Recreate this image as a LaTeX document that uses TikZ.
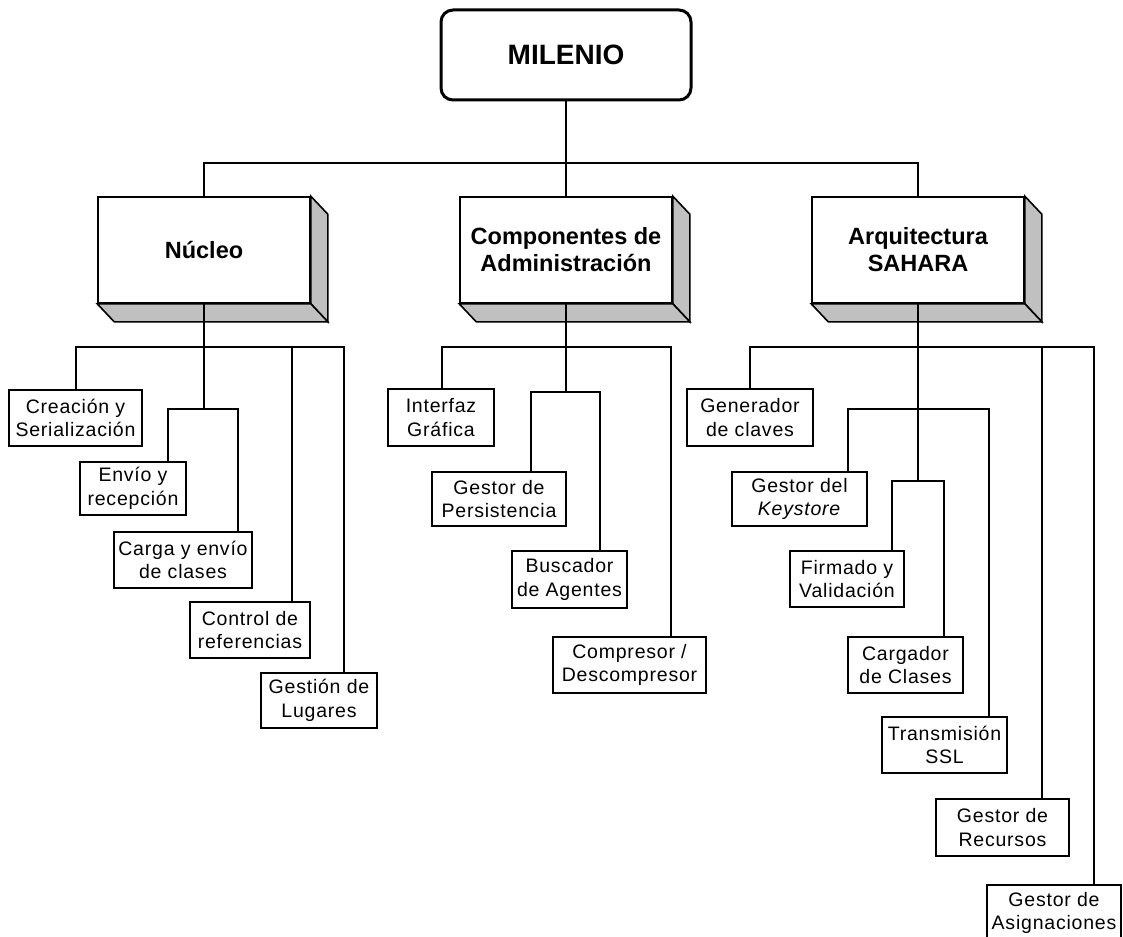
\documentclass[tikz,border=0pt]{standalone}
\usepackage{fontspec}
\setmainfont{Liberation Sans}
\newfontfamily\leaffont[LetterSpace=4]{Liberation Sans}
\definecolor{sidegray}{HTML}{C0C0C0}
\begin{document}
\begin{tikzpicture}[x=1pt,y=-1pt,
  leaf/.style={draw, line width=1.6pt, fill=white, align=center, inner sep=0pt,
    font=\leaffont\fontsize{19.5}{23.5}\selectfont},
  head/.style={draw, line width=1.6pt, fill=white, align=center, inner sep=0pt,
    minimum width=212pt, minimum height=106pt,
    font=\bfseries\fontsize{23.5}{27}\selectfont},
  link/.style={line width=1.6pt},
  depth/.style={fill=sidegray, draw, line width=1.6pt, line join=miter}
]
\useasboundingbox (0,0) rectangle (1123,936);
\clip (0,0) rectangle (1123,936);

% root
\node[draw, line width=3pt, rounded corners=12pt, minimum width=250pt, minimum height=90pt,
  font=\bfseries\fontsize{28}{32}\selectfont] (mil) at (566,55) {MILENIO};

% second level, 3D boxes
\node[head] (nuc)  at (204,250) {Núcleo};
\node[head] (comp) at (566,250) {Componentes de\\Administración};
\node[head] (arq)  at (918,250) {Arquitectura\\SAHARA};

\foreach \n in {nuc,comp,arq} {
  \filldraw[depth] (\n.north east) -- ([shift={(17,18)}]\n.north east)
     -- ([shift={(17,18)}]\n.south east) -- (\n.south east) -- cycle;
  \filldraw[depth] (\n.south west) -- ([shift={(17,18)}]\n.south west)
     -- ([shift={(17,18)}]\n.south east) -- (\n.south east) -- cycle;
}

% Núcleo children
\node[leaf, minimum width=133pt, minimum height=56pt] (crea)  at (75.5,418)  {Creación y\\Serialización};
\node[leaf, minimum width=106pt, minimum height=53pt] (envio) at (133,488.5) {Envío y\\recepción};
\node[leaf, minimum width=138pt, minimum height=56pt] (carga) at (183,560)   {Carga y envío\\de clases};
\node[leaf, minimum width=120pt, minimum height=56pt] (ctrl)  at (250,630)   {Control de\\referencias};
\node[leaf, minimum width=116pt, minimum height=55pt] (lug)   at (319,700.5) {Gestión de\\Lugares};

% Componentes children
\node[leaf, minimum width=106pt, minimum height=57pt] (intf)  at (441,417.5) {Interfaz\\Gráfica};
\node[leaf, minimum width=134pt, minimum height=54pt] (pers)  at (499,499)   {Gestor de\\Persistencia};
\node[leaf, minimum width=115pt, minimum height=57pt] (busc)  at (569.5,579.5) {Buscador\\de Agentes};
\node[leaf, minimum width=153pt, minimum height=56pt] (compr) at (629.5,665) {Compresor /\\Descompresor};

% Arquitectura children
\node[leaf, minimum width=126pt, minimum height=57pt] (gen)   at (750,417.5)  {Generador\\de claves};
\node[leaf, minimum width=135pt, minimum height=54pt] (key)   at (799.5,499)  {Gestor del\\\textit{Keystore}};
\node[leaf, minimum width=114pt, minimum height=56pt] (firm)  at (847,579)    {Firmado y\\Validación};
\node[leaf, minimum width=115pt, minimum height=56pt] (carg)  at (905.5,665)  {Cargador\\de Clases};
\node[leaf, minimum width=125pt, minimum height=56pt] (trans) at (944.5,745)  {Transmisión\\SSL};
\node[leaf, minimum width=133pt, minimum height=57pt] (rec)   at (1002.5,827.5) {Gestor de\\Recursos};
\node[leaf, minimum width=134pt, minimum height=56pt] (asig)  at (1054,913)   {Gestor de\\Asignaciones};

% entry points of the connectors on the boxes
\coordinate (crea-in)  at ([xshift=0.5pt]crea.north);
\coordinate (envio-in) at ([xshift=35pt]envio.north);
\coordinate (carga-in) at ([xshift=55pt]carga.north);
\coordinate (ctrl-in)  at ([xshift=42pt]ctrl.north);
\coordinate (lug-in)   at ([xshift=25pt]lug.north);
\coordinate (intf-in)  at ([xshift=1pt]intf.north);
\coordinate (pers-in)  at ([xshift=32pt]pers.north);
\coordinate (busc-in)  at ([xshift=30.5pt]busc.north);
\coordinate (compr-in) at ([xshift=41.5pt]compr.north);
\coordinate (gen-in)   at (gen.north);
\coordinate (key-in)   at ([xshift=48.5pt]key.north);
\coordinate (firm-in)  at ([xshift=45pt]firm.north);
\coordinate (carg-in)  at ([xshift=38.5pt]carg.north);
\coordinate (trans-in) at ([xshift=44.5pt]trans.north);
\coordinate (rec-in)   at ([xshift=39.5pt]rec.north);
\coordinate (asig-in)  at ([xshift=40pt]asig.north);

% bus lines
\coordinate (topbus) at (566,163);
\coordinate (nbus) at (204,347);
\coordinate (nsub) at (204,409);
\coordinate (cbus) at (566,347);
\coordinate (csub) at (566,392);
\coordinate (abus) at (918,347);
\coordinate (asub1) at (918,409);
\coordinate (asub2) at (918,481);

% root to second level
\draw[link] (mil.south) -- (comp.north);
\draw[link] (nuc.north) |- (topbus) -| (arq.north);

% Núcleo branch
\draw[link] (nuc.south) -- (nsub);
\draw[link] (crea-in) |- (nbus) -| (lug-in);
\draw[link] (ctrl-in) -- (ctrl-in |- nbus);
\draw[link] (envio-in) |- (nsub) -| (carga-in);

% Componentes branch
\draw[link] (comp.south) -- (csub);
\draw[link] (intf-in) |- (cbus) -| (compr-in);
\draw[link] (pers-in) |- (csub) -| (busc-in);

% Arquitectura branch
\draw[link] (arq.south) -- (asub2);
\draw[link] (gen-in) |- (abus) -| (asig-in);
\draw[link] (rec-in) -- (rec-in |- abus);
\draw[link] (key-in) |- (asub1) -| (trans-in);
\draw[link] (firm-in) |- (asub2) -| (carg-in);
\end{tikzpicture}
\end{document}
